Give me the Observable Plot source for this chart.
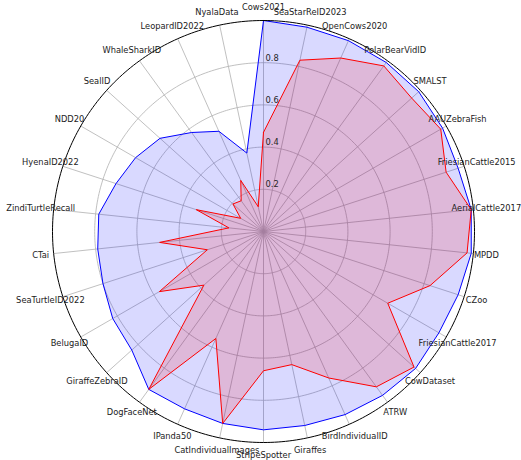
<!DOCTYPE html>
<html>
<head>
<meta charset="utf-8">
<script src="https://cdn.jsdelivr.net/npm/d3@7"></script>
<script src="https://cdn.jsdelivr.net/npm/@observablehq/plot@0.6"></script>
<style>
  html, body { margin: 0; padding: 0; background: #fff; }
  #chart svg { display: block; }
</style>
</head>
<body>
<div id="chart"></div>
<script>
const categories = [
  "Cows2021", "SeaStarReID2023", "OpenCows2020", "PolarBearVidID", "SMALST",
  "AAUZebraFish", "FriesianCattle2015", "AerialCattle2017", "MPDD", "CZoo",
  "FriesianCattle2017", "CowDataset", "ATRW", "BirdIndividualID", "Giraffes",
  "StripeSpotter", "CatIndividualImages", "IPanda50", "DogFaceNet", "GiraffeZebraID",
  "BelugaID", "SeaTurtleID2022", "CTai", "ZindiTurtleRecall", "HyenaID2022",
  "NDD20", "SealID", "WhaleSharkID", "LeopardID2022", "NyalaData"
];
const seriesBlue = [
  1.0, 0.99, 0.99, 0.99, 0.99,
  0.98, 0.97, 0.99, 0.99, 0.97,
  0.96, 0.97, 0.96, 0.95, 0.94,
  0.94, 0.93, 0.92, 0.925, 0.84,
  0.825, 0.80, 0.79, 0.785, 0.735,
  0.70, 0.66, 0.58, 0.52, 0.38
];
const seriesRed = [
  0.47, 0.83, 0.90, 0.97, 0.945,
  0.97, 0.91, 0.99, 0.97, 0.83,
  0.68, 0.96, 0.91, 0.76, 0.645,
  0.66, 0.93, 0.555, 0.925, 0.38,
  0.57, 0.28, 0.495, 0.165, 0.335,
  0.125, 0.195, 0.18, 0.265, 0.12
];
const ringTicks = [0.2, 0.4, 0.6, 0.8];
const rMax = 1.0;

const W = 521, H = 460, cx = 263, cy = 231, R = 211;
const N = categories.length;
const ang = i => i * 2 * Math.PI / N;
const px = (i, r) => r * Math.sin(ang(i));
const py = (i, r) => r * Math.cos(ang(i));

const polygon = vals => [...vals, vals[0]].map((v, k) => ({x: px(k % N, v), y: py(k % N, v)}));
const circle = r => d3.range(0, 361).map(a => ({r, x: r * Math.sin(a * Math.PI / 180), y: r * Math.cos(a * Math.PI / 180)}));

const ringPts = ringTicks.flatMap(circle);
const spinePts = circle(rMax);
const font = "DejaVu Sans, sans-serif";

const chart = Plot.plot({
  width: W,
  height: H,
  margin: 0,
  style: {background: "#fff", fontFamily: font},
  x: {domain: [-cx / R, (W - cx) / R], axis: null},
  y: {domain: [-(H - cy) / R, cy / R], axis: null},
  marks: [
    Plot.line(ringPts, {x: "x", y: "y", z: "r", stroke: "#b0b0b0", strokeWidth: 0.8}),
    Plot.link(categories, {
      x1: () => 0, y1: () => 0,
      x2: (d, i) => px(i, rMax), y2: (d, i) => py(i, rMax),
      stroke: "#b0b0b0", strokeWidth: 0.8
    }),
    Plot.line(polygon(seriesBlue), {x: "x", y: "y", stroke: "blue", strokeWidth: 1, fill: "blue", fillOpacity: 0.15, strokeLinejoin: "miter"}),
    Plot.line(polygon(seriesRed), {x: "x", y: "y", stroke: "red", strokeWidth: 1, fill: "red", fillOpacity: 0.15, strokeLinejoin: "miter"}),
    Plot.line(spinePts, {x: "x", y: "y", stroke: "black", strokeWidth: 1}),
    Plot.text(ringTicks, {
      x: () => 0, y: d => d, text: d => d.toFixed(1),
      dx: 2, dy: -2, textAnchor: "start", lineAnchor: "bottom",
      fontSize: 8.3, fill: "#262626", fontFamily: font
    }),
    Plot.text(categories, {
      x: (d, i) => px(i, 1.062), y: (d, i) => py(i, 1.062), text: d => d,
      textAnchor: "middle", lineAnchor: "middle",
      fontSize: 8.3, fill: "#222", fontFamily: font
    })
  ]
});
document.getElementById("chart").append(chart);
</script>
</body>
</html>
